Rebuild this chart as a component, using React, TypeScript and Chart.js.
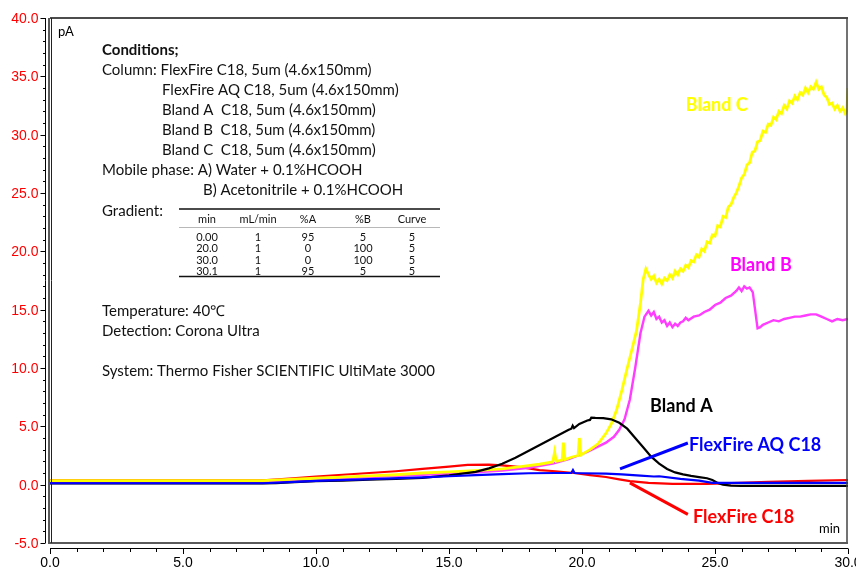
import React, { useEffect, useRef } from 'react';
import { Chart, registerables } from 'chart.js';
Chart.register(...registerables);

// ---------- data (retention time in min, signal in pA) ----------
const blandATime = [0, 2, 4, 6, 8, 8.5, 9, 10, 11, 12, 13, 14, 15, 15.5, 16, 16.5, 17, 17.5, 18, 18.5, 19, 19.5, 19.6, 19.65, 19.7, 19.9, 20.2, 20.3, 20.35, 20.5, 20.8, 21.1, 21.4, 21.7, 22.0, 22.3, 22.6, 22.9, 23.2, 23.5, 23.8, 24.1, 24.4, 24.7, 24.9, 25.1, 25.3, 25.6, 26, 27, 28, 29, 30];
const blandAValues = [0.1, 0.1, 0.1, 0.1, 0.1, 0.12, 0.2, 0.3, 0.35, 0.42, 0.5, 0.58, 0.8, 0.95, 1.1, 1.4, 1.8, 2.3, 2.9, 3.5, 4.1, 4.7, 4.8, 5.05, 4.85, 5.2, 5.5, 5.55, 5.75, 5.72, 5.7, 5.6, 5.3, 4.8, 4.0, 3.2, 2.4, 1.8, 1.35, 1.05, 0.88, 0.75, 0.65, 0.55, 0.4, 0.15, 0.0, -0.08, -0.1, -0.1, -0.1, -0.1, -0.1];

const flexAqTime = [0, 8, 9, 10, 12, 14, 15, 16, 17, 18, 19, 19.6, 19.66, 19.72, 20, 20.9, 21.5, 22.2, 22.7, 22.9, 23.7, 24.4, 24.9, 26, 28, 30];
const flexAqValues = [0.12, 0.12, 0.22, 0.32, 0.48, 0.62, 0.72, 0.82, 0.9, 0.98, 1.0, 1.0, 1.25, 1.0, 0.98, 0.95, 0.88, 0.78, 0.7, 0.72, 0.5, 0.35, 0.15, 0.15, 0.15, 0.15];

const flexTime = [0, 8, 9, 10, 11, 12, 13, 14, 15, 15.7, 16.5, 17, 17.7, 18.4, 19, 19.7, 20.3, 20.9, 21.4, 21.8, 22.5, 23.4, 24.7, 25.9, 27, 28.5, 30];
const flexValues = [0.38, 0.38, 0.52, 0.7, 0.85, 1.0, 1.15, 1.35, 1.55, 1.7, 1.72, 1.65, 1.5, 1.25, 1.15, 1.0, 0.82, 0.66, 0.45, 0.3, 0.15, 0.06, 0.06, 0.15, 0.25, 0.32, 0.4];

const blandBTime = [0, 4, 8, 9, 10, 12, 14, 15, 16, 17, 18, 18.9, 19.5, 20.2, 20.9, 21.2, 21.4, 21.6, 21.8, 22.0, 22.2, 22.35, 22.5, 22.6, 22.7, 22.8, 22.9, 23.0, 23.1, 23.2, 23.3, 23.4, 23.5, 23.6, 23.7, 23.8, 23.9, 24.0, 24.2, 24.4, 24.6, 24.8, 25.0, 25.2, 25.4, 25.6, 25.8, 25.9, 26.0, 26.1, 26.2, 26.3, 26.42, 26.6, 26.7, 26.8, 27.0, 27.2, 27.4, 27.6, 27.8, 28.0, 28.2, 28.4, 28.6, 28.8, 29.0, 29.2, 29.4, 29.6, 29.8, 30.0];
const blandBValues = [0.25, 0.25, 0.25, 0.35, 0.45, 0.65, 0.85, 0.95, 1.05, 1.2, 1.45, 1.8, 2.2, 2.8, 3.6, 4.1, 4.7, 5.6, 7.3, 10.0, 13.0, 14.4, 14.9, 14.5, 14.8, 14.2, 14.4, 13.9, 14.1, 13.6, 13.9, 13.5, 13.8, 13.6, 13.9, 14.0, 14.3, 14.1, 14.4, 14.5, 14.8, 15.0, 15.4, 15.6, 16.0, 16.2, 16.6, 16.9, 16.6, 17.0, 16.8, 16.9, 16.5, 13.4, 13.5, 13.7, 13.9, 14.1, 14.0, 14.2, 14.3, 14.4, 14.4, 14.5, 14.6, 14.6, 14.4, 14.2, 14.0, 14.2, 14.1, 14.2];

const blandCTime = [0, 4, 8, 9, 10, 11, 12, 13, 14, 15, 16, 17, 17.7, 18.4, 18.9, 18.97, 19.03, 19.25, 19.3, 19.36, 19.6, 19.85, 19.9, 19.96, 20.3, 20.6, 20.9, 21.1, 21.3, 21.5, 21.7, 21.9, 22.05, 22.2, 22.3, 22.4, 22.5, 22.6, 22.7, 22.8, 22.9, 23.0, 23.1, 23.2, 23.3, 23.4, 23.5, 23.6, 23.7, 23.8, 23.9, 24.0, 24.1, 24.2, 24.3, 24.4, 24.5, 24.6, 24.7, 24.8, 24.9, 25.0, 25.1, 25.2, 25.3, 25.4, 25.5, 25.6, 25.7, 25.8, 25.9, 26.0, 26.1, 26.2, 26.3, 26.4, 26.5, 26.6, 26.7, 26.8, 26.9, 27.0, 27.1, 27.2, 27.3, 27.4, 27.5, 27.6, 27.7, 27.8, 27.9, 28.0, 28.1, 28.2, 28.3, 28.4, 28.5, 28.6, 28.7, 28.8, 28.9, 29.0, 29.1, 29.2, 29.3, 29.4, 29.5, 29.6, 29.7, 29.8, 29.9, 29.95, 30.0];
const blandCValues = [0.35, 0.35, 0.35, 0.45, 0.55, 0.65, 0.75, 0.85, 1.0, 1.1, 1.2, 1.35, 1.55, 1.75, 1.95, 2.8, 2.0, 2.1, 3.6, 2.15, 2.35, 2.5, 4.0, 2.55, 3.0, 3.5, 4.4, 5.2, 6.4, 8.1, 10.0, 11.8, 13.2, 15.6, 17.6, 18.5, 18.0, 17.6, 17.9, 17.3, 17.6, 17.2, 17.7, 17.5, 18.0, 17.7, 18.3, 18.0, 18.5, 18.3, 18.8, 18.6, 19.2, 19.1, 19.7, 19.5, 20.2, 20.0, 20.8, 20.7, 21.4, 21.3, 22.2, 22.1, 23.0, 22.9, 23.8, 24.0, 24.6, 25.0, 25.6, 26.3, 26.6, 27.4, 27.6, 28.5, 28.6, 29.4, 29.5, 30.3, 30.2, 30.9, 30.8, 31.5, 31.3, 32.0, 31.8, 32.5, 32.2, 32.9, 32.7, 33.3, 33.0, 33.6, 33.4, 34.0, 33.6, 34.1, 33.9, 34.5, 33.9, 34.1, 33.4, 33.2, 32.6, 32.7, 32.2, 32.5, 32.0, 32.3, 31.8, 32.0, 34.0];

// callout leader lines (time, pA)
const calloutAqTime = [21.43, 23.98];
const calloutAqValues = [1.35, 3.57];
const calloutFlexTime = [21.8, 23.98];
const calloutFlexValues = [0.15, -2.55];

// axes
const xMajorTicks = [0, 5, 10, 15, 20, 25, 30];
const xTickLabels = ['0.0', '5.0', '10.0', '15.0', '20.0', '25.0', '30.0'];
const yMajorTicks = [40, 35, 30, 25, 20, 15, 10, 5, 0, -5];
const yTickLabels = ['40.0', '35.0', '30.0', '25.0', '20.0', '15.0', '10.0', '5.0', '0.0', '-5.0'];

// series name labels (text, anchor time, anchor pA, colour)
const seriesLabelText = ['Bland C', 'Bland B', 'Bland A', 'FlexFire AQ C18', 'FlexFire C18'];
const seriesLabelTime = [23.9, 25.56, 22.56, 24.02, 24.17];
const seriesLabelValue = [32.5, 18.83, 6.75, 3.41, -2.77];
const seriesLabelColor = ['#FFFF00', '#FF00FF', '#000000', '#0000FF', '#FF0000'];

// conditions text
const conditionLines = [
  { text: 'Conditions;', x: 102, y: 50, bold: true },
  { text: 'Column: FlexFire C18, 5um (4.6x150mm)', x: 102, y: 70 },
  { text: 'FlexFire AQ C18, 5um (4.6x150mm)', x: 162, y: 90 },
  { text: 'Bland A  C18, 5um (4.6x150mm)', x: 162, y: 110 },
  { text: 'Bland B  C18, 5um (4.6x150mm)', x: 162, y: 130 },
  { text: 'Bland C  C18, 5um (4.6x150mm)', x: 162, y: 150 },
  { text: 'Mobile phase: A) Water + 0.1%HCOOH', x: 102, y: 170 },
  { text: 'B) Acetonitrile + 0.1%HCOOH', x: 203, y: 190 },
  { text: 'Gradient:', x: 102, y: 211 },
  { text: 'Temperature: 40\u2103', x: 102, y: 311 },
  { text: 'Detection: Corona Ultra', x: 102, y: 331 },
  { text: 'System: Thermo Fisher SCIENTIFIC UltiMate 3000', x: 102, y: 371 },
];
const gradientHeader = ['min', 'mL/min', '%A', '%B', 'Curve'];
const gradientRows = [
  ['0.00', '1', '95', '5', '5'],
  ['20.0', '1', '0', '100', '5'],
  ['30.0', '1', '0', '100', '5'],
  ['30.1', '1', '95', '5', '5'],
];

function pts(t: number[], v: number[]) {
  return t.map((x, i) => ({ x, y: v[i] }));
}

const BODY_FONT = 'Lato, "Open Sans", sans-serif';
const AXIS_FONT = '"Liberation Sans", Arial, sans-serif';

const decorPlugin = {
  id: 'decor',
  afterDraw(chart: any) {
    const { ctx, chartArea: a } = chart;
    const xs = chart.scales.x;
    const ys = chart.scales.y;
    ctx.save();

    // frame
    ctx.lineWidth = 1.5;
    ctx.strokeStyle = '#111';
    ctx.beginPath();
    ctx.moveTo(a.left, a.top);
    ctx.lineTo(a.right, a.top);
    ctx.stroke();
    ctx.strokeStyle = '#444';
    ctx.beginPath();
    ctx.moveTo(a.right - 1, a.top);
    ctx.lineTo(a.right - 1, a.bottom);
    ctx.stroke();
    ctx.lineWidth = 2;
    ctx.strokeStyle = '#5a5a5a';
    ctx.beginPath();
    ctx.moveTo(a.left - 1, a.top);
    ctx.lineTo(a.left - 1, a.bottom);
    ctx.lineTo(a.right, a.bottom);
    ctx.stroke();
    ctx.lineWidth = 1;
    ctx.strokeStyle = '#222';
    ctx.beginPath();
    ctx.moveTo(a.left + 1.5, a.top);
    ctx.lineTo(a.left + 1.5, a.bottom);
    ctx.stroke();

    // y axis (separate line left of frame)
    const yAxisX = a.left - 4.5;
    ctx.strokeStyle = '#000';
    ctx.lineWidth = 1;
    ctx.beginPath();
    ctx.moveTo(yAxisX, ys.getPixelForValue(40));
    ctx.lineTo(yAxisX, ys.getPixelForValue(-5));
    for (let v = -5; v <= 40; v += 1) {
      const py = Math.round(ys.getPixelForValue(v)) + 0.5;
      const len = v % 5 === 0 ? 5 : 2.5;
      ctx.moveTo(yAxisX, py);
      ctx.lineTo(yAxisX - len, py);
    }
    ctx.stroke();
    ctx.fillStyle = '#FF0000';
    ctx.font = `14px ${AXIS_FONT}`;
    ctx.textAlign = 'right';
    ctx.textBaseline = 'middle';
    yMajorTicks.forEach((v, i) => {
      ctx.fillText(yTickLabels[i], yAxisX - 7, ys.getPixelForValue(v) + 1);
    });

    // x axis (separate line below frame)
    const xAxisY = a.bottom + 5.5;
    ctx.strokeStyle = '#000';
    ctx.beginPath();
    ctx.moveTo(xs.getPixelForValue(0), xAxisY);
    ctx.lineTo(xs.getPixelForValue(30), xAxisY);
    for (let t = 0; t <= 30; t += 1) {
      const px = Math.round(xs.getPixelForValue(t)) + 0.5;
      const len = t % 5 === 0 ? 5.5 : 3.5;
      ctx.moveTo(px, xAxisY);
      ctx.lineTo(px, xAxisY + len);
    }
    ctx.stroke();
    ctx.fillStyle = '#000';
    ctx.textAlign = 'center';
    ctx.textBaseline = 'middle';
    xMajorTicks.forEach((t, i) => {
      ctx.fillText(xTickLabels[i], xs.getPixelForValue(t), xAxisY + 14.5);
    });

    // unit labels
    ctx.font = `13px ${BODY_FONT}`;
    ctx.textAlign = 'left';
    ctx.fillStyle = '#000';
    ctx.fillText('pA', a.left + 8, a.top + 14);
    ctx.fillText('min', a.right - 29, a.bottom - 14);

    // conditions text
    conditionLines.forEach((l: any) => {
      ctx.font = `${l.bold ? 'bold ' : ''}15px ${BODY_FONT}`;
      ctx.fillStyle = '#111';
      ctx.fillText(l.text, l.x, l.y);
    });

    // gradient table
    const tblLeft = 179;
    const tblRight = 440;
    const colCenters = [207, 258, 308, 363, 412];
    ctx.strokeStyle = '#111';
    ctx.lineWidth = 1.5;
    ctx.beginPath();
    ctx.moveTo(tblLeft, 209);
    ctx.lineTo(tblRight, 209);
    ctx.moveTo(tblLeft, 276.5);
    ctx.lineTo(tblRight, 276.5);
    ctx.stroke();
    ctx.lineWidth = 0.6;
    ctx.strokeStyle = '#888';
    ctx.beginPath();
    ctx.moveTo(tblLeft, 227.5);
    ctx.lineTo(tblRight, 227.5);
    ctx.stroke();
    ctx.font = `11px ${BODY_FONT}`;
    ctx.textAlign = 'center';
    ctx.fillStyle = '#111';
    gradientHeader.forEach((h, i) => ctx.fillText(h, colCenters[i], 219));
    gradientRows.forEach((row, r) => {
      row.forEach((c, i) => ctx.fillText(c, colCenters[i], 237.5 + r * 11.3));
    });

    // series labels
    ctx.font = `bold 18px ${BODY_FONT}`;
    ctx.textAlign = 'left';
    ctx.textBaseline = 'middle';
    seriesLabelText.forEach((txt, i) => {
      ctx.fillStyle = seriesLabelColor[i];
      ctx.fillText(txt, xs.getPixelForValue(seriesLabelTime[i]), ys.getPixelForValue(seriesLabelValue[i]));
    });

    ctx.restore();
  },
};

export default function App() {
  const ref = useRef<HTMLCanvasElement | null>(null);
  useEffect(() => {
    document.body.style.margin = '0';
    const canvas = ref.current;
    if (!canvas) return;
    const line = (data: any, color: string, width = 2) => ({
      data,
      borderColor: color,
      backgroundColor: color,
      borderWidth: width,
      pointRadius: 0,
      tension: 0,
      fill: false,
    });
    // first dataset is drawn on top
    const chart = new Chart(canvas, {
      type: 'line',
      data: {
        datasets: [
          line(pts(calloutAqTime, calloutAqValues), '#0000FF', 3),
          line(pts(calloutFlexTime, calloutFlexValues), '#FF0000', 3),
          line(pts(flexAqTime, flexAqValues), '#0000FF', 2.2),
          line(pts(blandATime, blandAValues), '#000000', 2.2),
          line(pts(blandCTime, blandCValues), '#FFFF00', 2.8),
          line(pts(blandBTime, blandBValues), '#FF3CFF', 2.4),
          line(pts(flexTime, flexValues), '#FF0000', 2.2),
        ] as any,
      },
      options: {
        animation: false,
        responsive: false,
        events: [],
        layout: { padding: { left: 50, top: 18, right: 8, bottom: 25 } },
        plugins: { legend: { display: false }, tooltip: { enabled: false } },
        scales: {
          x: { type: 'linear', min: 0, max: 30, display: false },
          y: { type: 'linear', min: -5, max: 40, display: false },
        },
      },
      plugins: [decorPlugin],
    });
    return () => chart.destroy();
  }, []);
  return (
    <canvas
      ref={ref}
      width={856}
      height={568}
      style={{ position: 'absolute', left: 0, top: 0, width: 856, height: 568, background: '#fff' }}
    />
  );
}
